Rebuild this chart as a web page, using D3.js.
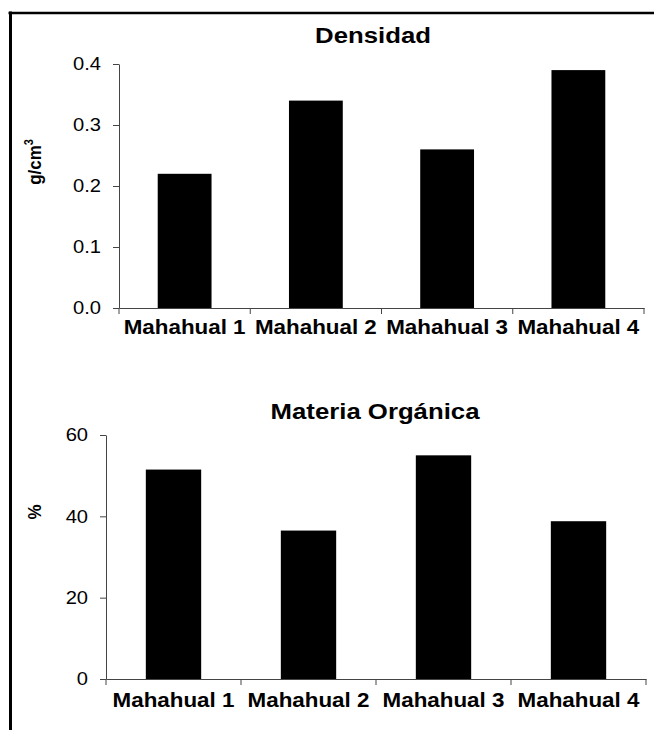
<!DOCTYPE html>
<html><head><meta charset="utf-8">
<script src="https://cdn.jsdelivr.net/npm/d3@7"></script>
<style>
body{margin:0;background:#fff;}
svg{display:block;}
text{font-family:"Liberation Sans",Arial,sans-serif;fill:#000;}
</style></head>
<body><svg id="c" width="654" height="730"></svg>
<script>
const categories = ["Mahahual 1","Mahahual 2","Mahahual 3","Mahahual 4"];
const densidad = [0.22, 0.34, 0.26, 0.39];
const materia = [51.5, 36.5, 55.0, 38.8];
const densTicks = [0, 0.1, 0.2, 0.3, 0.4];
const matTicks = [0, 20, 40, 60];

const SX = 1.12; // horizontal stretch of the original picture's text
const svg = d3.select("#c");
svg.append("rect").attr("width",654).attr("height",730).attr("fill","#fff");
// frame
svg.append("line").attr("x1",8.5).attr("x2",654).attr("y1",13).attr("y2",13).attr("stroke","#000").attr("stroke-width",2.5);
svg.append("line").attr("x1",10.5).attr("x2",10.5).attr("y1",11.5).attr("y2",730).attr("stroke","#000").attr("stroke-width",3);

function panel(o){
  const x = d3.scaleBand().domain(categories).range([o.x0,o.x1]).paddingInner(0.59).paddingOuter(0.295);
  const y = d3.scaleLinear().domain([0,o.max]).range([o.y0,o.y1]);
  const g = svg.append("g");
  g.selectAll("rect.bar").data(o.values).join("rect").attr("class","bar")
    .attr("x",(d,i)=>x(categories[i])).attr("width",x.bandwidth())
    .attr("y",d=>y(d)).attr("height",d=>y(0)-y(d)).attr("fill","#000");
  // y axis
  const ya = g.append("g").attr("transform",`translate(${o.x0},0)`)
    .call(d3.axisLeft(y).tickValues(o.ticks).tickFormat(o.fmt).tickSize(6).tickSizeOuter(0).tickPadding(10));
  ya.select(".domain").attr("stroke","#444");
  ya.selectAll(".tick line").attr("stroke","#444");
  ya.selectAll(".tick text").attr("font-size",18).attr("fill","#000").attr("transform",`scale(${SX},1)`);
  // x axis
  const xa = g.append("g").attr("transform",`translate(0,${o.y0})`)
    .call(d3.axisBottom(x).tickSize(0).tickPadding(o.xpad));
  xa.select(".domain").attr("stroke","#444");
  xa.selectAll(".tick text").attr("font-size",20).attr("font-weight","bold").attr("fill","#000").attr("transform",`scale(${SX},1)`);
  // boundary ticks
  const bounds = d3.range(categories.length+1).map(i=>o.x0 + i*(o.x1-o.x0)/categories.length);
  g.selectAll("line.bt").data(bounds).join("line").attr("class","bt")
    .attr("x1",d=>d).attr("x2",d=>d).attr("y1",o.y0).attr("y2",o.y0+6).attr("stroke","#444");
  // title
  g.append("g").attr("transform",`translate(${o.tx},${o.ty}) scale(${SX},1)`)
    .append("text").attr("text-anchor","middle")
    .attr("font-size",23).attr("font-weight","bold").text(o.title);
  // y label
  const yl = g.append("g").attr("transform",`translate(${o.lx},${o.ly}) scale(${SX},1) rotate(-90)`)
    .append("text").attr("text-anchor","middle").attr("font-size",17).attr("font-weight","bold");
  yl.append("tspan").text(o.ylab);
  if(o.sup) yl.append("tspan").attr("font-size",11).attr("dy",-7).text(o.sup);
}

panel({x0:119,x1:644,y0:308,y1:64,max:0.4,values:densidad,ticks:densTicks,fmt:d3.format(".1f"),
  title:"Densidad",tx:373,ty:43,ylab:"g/cm",sup:"3",lx:41,ly:162,xpad:12});
panel({x0:106,x1:646,y0:679,y1:435,max:60,values:materia,ticks:matTicks,fmt:d3.format("d"),
  title:"Materia Orgánica",tx:375,ty:419,ylab:"%",lx:41,ly:512,xpad:14});
</script></body></html>
